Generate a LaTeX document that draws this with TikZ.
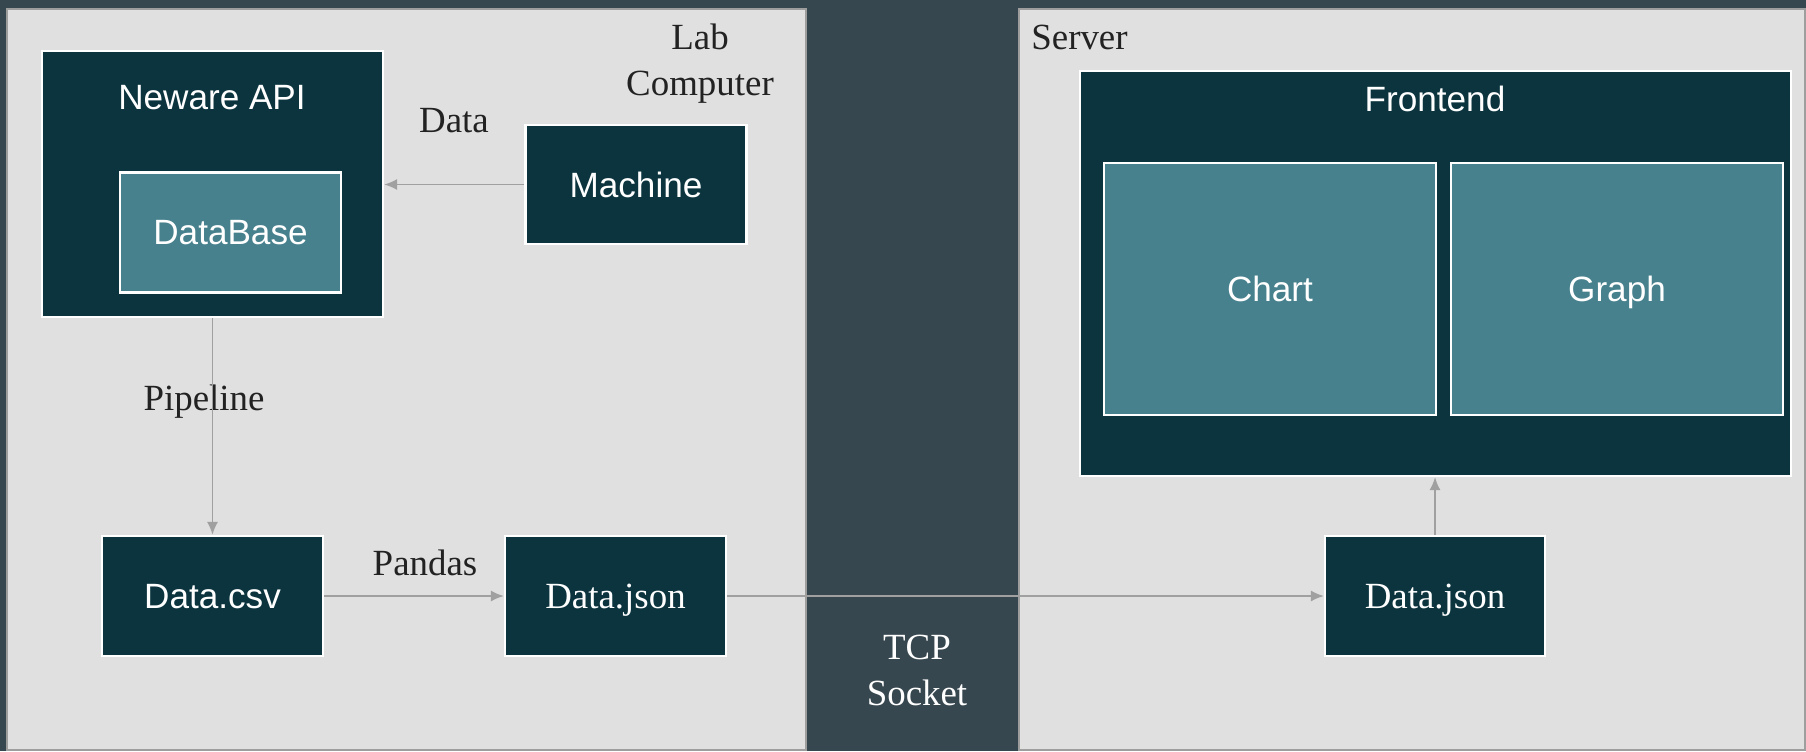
\documentclass[tikz,border=0pt]{standalone}
\usepackage{fontspec}
\setmainfont{Liberation Serif}
\newfontfamily\boxsans{Liberation Sans}
\usepackage{tikz}
\usetikzlibrary{positioning}
\usetikzlibrary{arrows.meta}
\definecolor{slate}{RGB}{55,71,79}
\definecolor{panelgray}{RGB}{224,224,224}
\definecolor{panelline}{RGB}{158,158,158}
\definecolor{boxdark}{RGB}{12,52,62}
\definecolor{boxteal}{RGB}{71,129,141}
\definecolor{linkgray}{RGB}{160,160,160}
\definecolor{labelink}{RGB}{34,34,34}

\begin{document}
\begin{tikzpicture}[x=0.02cm,y=-0.02cm,
  every node/.style={inner sep=0pt,text depth=0pt},
  panel/.style={fill=panelgray,draw=panelline,line width=1pt},
  darkbox/.style={draw=white,fill=boxdark,line width=1.2pt,text=white,
    minimum width=4.42cm,minimum height=2.4cm,font=\boxsans\fontsize{20}{24}\selectfont},
  tealbox/.style={darkbox,fill=boxteal},
  filebox/.style={darkbox,font=\fontsize{21}{26}\selectfont},
  boxtitle/.style={text=white,font=\boxsans\fontsize{20}{24}\selectfont},
  note/.style={text=labelink,font=\fontsize{21}{26}\selectfont,align=center},
  link/.style={draw=linkgray,line width=1.1pt,-{Latex[length=0.26cm,width=0.22cm]}}]

\fill[slate] (0,0) rectangle (1806,751);
\useasboundingbox (0,0) rectangle (1806,751);

% lab computer and server
\draw[panel] (7,9) rectangle (806,750);
\draw[panel] (1019,9) rectangle (1805,750);

\node[note] (labname) at (700,60) {Lab\\Computer};
\node[note,anchor=west] (srvname) at (1031,37) {Server};
\node[note,text=white] (tcp) at (917,670) {TCP\\Socket};

% lab side
\node[darkbox,minimum width=6.82cm,minimum height=5.32cm] (api) at (212.5,184) {};
\node[boxtitle] (apititle) at (212,97) {Neware API};
\node[tealbox] (db) at (230.5,232.5) {DataBase};
\node[darkbox,minimum height=2.38cm] (machine) at (636,184.5) {Machine};
\node[darkbox] (csv) at (212.5,596) {Data.csv};
\node[filebox] (labjson) at (615.5,596) {Data.json};

\node[note] (datalbl) at (454,120) {Data};
\node[note] (pipelbl) at (204,398) {Pipeline};
\node[note] (pandlbl) at (425,563) {Pandas};

% server side
\node[darkbox,minimum width=14.22cm,minimum height=8.1cm] (front) at (1435.5,273.5) {};
\node[boxtitle] (fronttitle) at (1435,99) {Frontend};
\node[tealbox,minimum width=6.64cm,minimum height=5.04cm] (chart) at (1270,289) {Chart};
\node[tealbox,minimum width=6.64cm,minimum height=5.04cm] (graph) at (1617,289) {Graph};
\node[filebox,minimum width=4.4cm] (srvjson) at (1435,596) {Data.json};

\draw[link] (machine.west) -- (api.east |- machine.west);
\draw[link] (api) -- (csv);
\draw[link] (csv) -- (labjson);
\draw[link] (labjson) -- (srvjson);
\draw[link] (srvjson) -- (front.south -| srvjson.north);
\end{tikzpicture}
\end{document}
